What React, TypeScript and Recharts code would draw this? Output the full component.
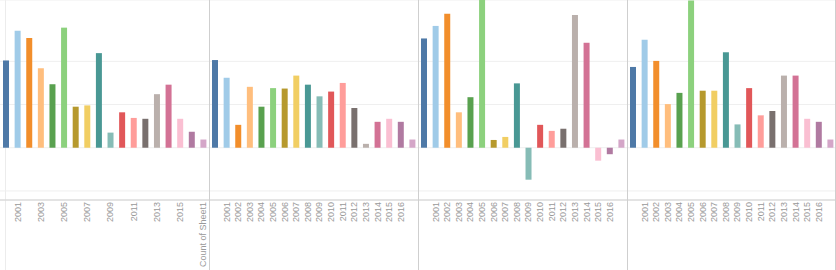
import { BarChart, Bar, Cell, XAxis, YAxis, CartesianGrid } from "recharts";

// Tableau 20 palette, one colour per column
const colors = [
  "#4e79a7", "#a0cbe8", "#f28e2b", "#ffbe7d", "#59a14f", "#8cd17d",
  "#b6992d", "#f1ce63", "#499894", "#86bcb6", "#e15759", "#ff9d9a",
  "#79706e", "#bab0ac", "#d37295", "#fabfd2", "#b07aa1", "#d4a6c8",
];

// tick labels under each column
const firstPanelTicks = [
  "", "2001", "", "2003", "", "2005", "", "2007", "", "2009",
  "", "2011", "", "2013", "", "2015", "", "Count of Sheet1",
];
const yearTicks = [
  "", "2001", "2002", "2003", "2004", "2005", "2006", "2007", "2008",
  "2009", "2010", "2011", "2012", "2013", "2014", "2015", "2016", "",
];

// values, per panel
const panelA = [202, 271, 254, 184, 147, 278, 95, 98, 219, 35, 82, 69, 67, 124, 146, 67, 37, 19];
const panelB = [203, 162, 53, 141, 95, 138, 137, 167, 146, 119, 130, 150, 92, 9, 60, 67, 60, 19];
const panelC = [253, 282, 310, 82, 117, 370, 18, 25, 149, -74, 53, 39, 44, 307, 243, -30, -15, 19];
const panelD = [187, 250, 201, 101, 127, 341, 132, 132, 221, 54, 138, 75, 85, 167, 167, 67, 60, 19];

const yTicks = [-100, 0, 100, 200];

const PANEL_W = 209;
const H = 270;

function RotatedTick(props: any) {
  const { x, y, payload, labels } = props;
  const label = labels[payload.index];
  if (!label) return null;
  return (
    <text
      transform={`translate(${x},${y}) rotate(-90)`}
      textAnchor="end"
      dy="0.35em"
      fontSize={9}
      fontFamily="'Liberation Sans', Arial, sans-serif"
      fill="#999"
    >
      {label}
    </text>
  );
}

function Panel({ values, labels, left }: { values: number[]; labels: string[]; left: number }) {
  const data = values.map((v, i) => ({ key: `c${i}`, value: v }));
  return (
    <div style={{ position: "absolute", left, top: 0, width: PANEL_W, height: H }}>
      <BarChart width={PANEL_W} height={H} data={data} margin={{ top: 0, right: 0, bottom: 0, left: 0 }} barCategoryGap="26%">
        <CartesianGrid vertical={false} stroke="#efefef" />
        <XAxis
          dataKey="key"
          height={70}
          interval={0}
          tickLine={false}
          tickSize={0}
          tickMargin={2}
          axisLine={{ stroke: "#d0d0d0" }}
          tick={<RotatedTick labels={labels} />}
        />
        <YAxis hide domain={[-121, 342]} ticks={yTicks} allowDataOverflow />
        <Bar dataKey="value" isAnimationActive={false}>
          {data.map((d, i) => (
            <Cell key={d.key} fill={colors[i]} />
          ))}
        </Bar>
      </BarChart>
    </div>
  );
}

const line = (left: number, color: string) => (
  <div style={{ position: "absolute", left, top: 0, width: 1, height: H, background: color }} />
);

export default function App() {
  return (
    <div style={{ position: "absolute", left: 0, top: 0, width: 836, height: H, background: "#fff", overflow: "hidden" }}>
      {line(5, "#ececec")}
      <Panel values={panelA} labels={firstPanelTicks} left={0} />
      <Panel values={panelB} labels={yearTicks} left={PANEL_W} />
      <Panel values={panelC} labels={yearTicks} left={PANEL_W * 2} />
      <Panel values={panelD} labels={yearTicks} left={PANEL_W * 3} />
      {line(PANEL_W, "#cfcfcf")}
      {line(PANEL_W * 2, "#cfcfcf")}
      {line(PANEL_W * 3, "#cfcfcf")}
      {line(835, "#cfcfcf")}
    </div>
  );
}
